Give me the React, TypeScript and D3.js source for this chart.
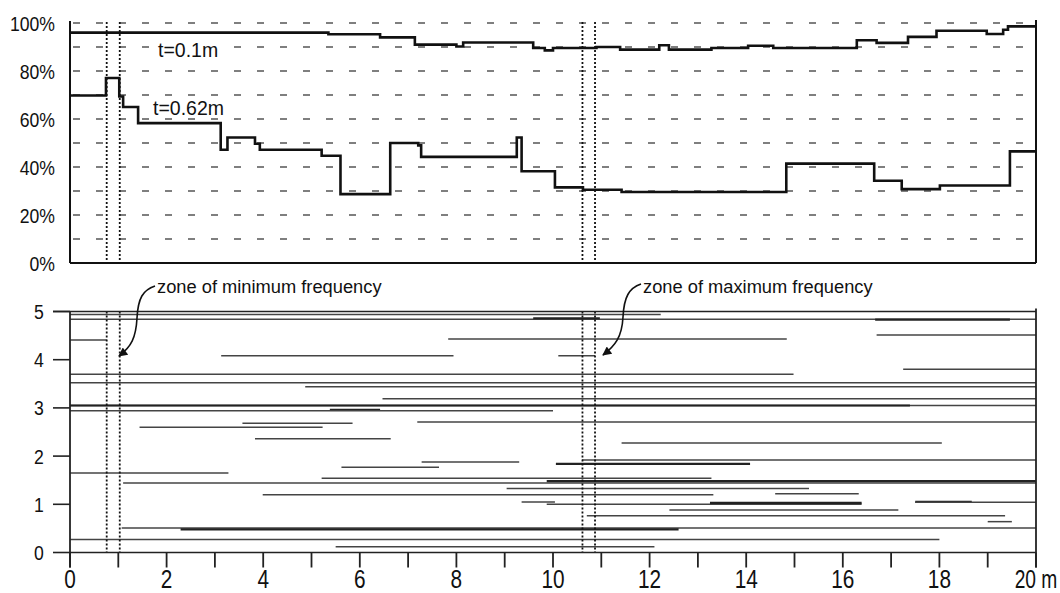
import React from "react";
import * as d3 from "d3";

// ---- data ----
const T01_X = [0, 5.35, 6.42, 7.14, 8.0, 8.14, 9.59, 9.83, 10.0, 10.9, 11.39, 12.2, 12.4, 13.28, 14.04, 14.56, 16.29, 16.7, 17.35, 17.94, 18.98, 19.32, 19.42];
const T01_V = [96.0, 95.3, 94.0, 91.0, 90.2, 91.9, 89.6, 88.6, 89.6, 90.0, 88.9, 90.7, 88.9, 89.6, 90.5, 89.6, 92.8, 91.7, 94.2, 96.8, 95.4, 97.2, 98.6];
const T062_X = [0, 0.745, 1.02, 1.1, 1.41, 3.12, 3.26, 3.83, 3.93, 5.21, 5.6, 6.63, 7.21, 7.27, 9.25, 9.35, 10.04, 10.62, 11.42, 14.83, 16.65, 17.22, 18.01, 19.46];
const T062_V = [69.8, 77.1, 69.4, 65.0, 58.3, 47.2, 52.3, 49.7, 47.2, 44.7, 28.7, 50.0, 49.0, 44.2, 52.3, 38.2, 31.5, 30.5, 29.6, 41.4, 34.3, 30.8, 32.3, 46.5];
const X_END = 20;

const PCT_TICKS = [0, 20, 40, 60, 80, 100];
const PCT_GRID = [10, 20, 30, 40, 50, 60, 70, 80, 90, 100];
const DEPTH_TICKS = [0, 1, 2, 3, 4, 5];
const X_TICKS = [0, 1, 2, 3, 4, 5, 6, 7, 8, 9, 10, 11, 12, 13, 14, 15, 16, 17, 18, 19, 20];
const X_LABELS = [0, 2, 4, 6, 8, 10, 12, 14, 16, 18, 20];

const MIN_ZONE = [0.76, 1.03];
const MAX_ZONE = [10.61, 10.87];

const FRAC_START = [0, 0, 9.59, 16.67, 16.7, 0, 7.83, 3.13, 10.11, 17.25, 0, 0, 4.87, 6.47, 0, 0, 5.38, 0, 3.57, 1.44, 7.19, 3.83, 11.42, 7.28, 5.62, 10.06, 10.6, 0, 1.1, 9.87, 5.21, 9.04, 3.99, 14.6, 9.35, 9.87, 13.25, 17.5, 17.5, 12.41, 10.7, 19.0, 1.07, 2.29, 0, 5.5];
const FRAC_END = [12.23, 20, 10.97, 19.46, 20, 0.76, 14.84, 7.94, 10.87, 20, 14.98, 20, 20, 20, 20, 17.39, 6.42, 10.0, 5.85, 5.23, 20, 6.64, 18.05, 9.3, 7.64, 14.08, 20, 3.28, 20, 20, 13.28, 15.3, 13.32, 16.33, 10.04, 16.39, 16.39, 18.67, 20, 17.15, 19.36, 19.5, 20, 12.6, 18.0, 12.1];
const FRAC_DEPTH = [4.94, 4.84, 4.86, 4.83, 4.51, 4.41, 4.43, 4.08, 4.08, 3.8, 3.7, 3.52, 3.44, 3.19, 3.05, 3.05, 2.96, 2.94, 2.68, 2.6, 2.71, 2.36, 2.27, 1.88, 1.77, 1.84, 1.92, 1.65, 1.44, 1.48, 1.54, 1.33, 1.2, 1.22, 1.05, 1.0, 1.03, 1.05, 1.04, 0.88, 0.76, 0.64, 0.51, 0.48, 0.27, 0.12];
const FRAC_HEAVY = [0, 0, 1, 1, 0, 0, 0, 0, 0, 0, 0, 0, 0, 0, 0, 1, 1, 0, 0, 0, 0, 0, 0, 0, 0, 1, 0, 0, 0, 1, 0, 0, 0, 0, 0, 0, 1, 1, 0, 0, 0, 0, 0, 1, 0, 0];

const LABEL_T01 = "t=0.1m";
const LABEL_T062 = "t=0.62m";
const NOTE_MIN = "zone of minimum frequency";
const NOTE_MAX = "zone of maximum frequency";

const FONT = "'Liberation Sans', Arial, sans-serif";

export default function App() {
  const x = d3.scaleLinear().domain([0, 20]).range([70, 1036]);
  const yT = d3.scaleLinear().domain([0, 100]).range([263, 23]);
  const yB = d3.scaleLinear().domain([0, 5]).range([552.5, 311.5]);

  const step = d3
    .line<[number, number]>()
    .x((d) => x(d[0]))
    .y((d) => yT(d[1]))
    .curve(d3.curveStepAfter);

  const mk = (xs: number[], vs: number[]) => {
    const pts: [number, number][] = xs.map((v, i) => [v, vs[i]]);
    pts.push([X_END, vs[vs.length - 1]]);
    return step(pts) || "";
  };

  const zones = [...MIN_ZONE, ...MAX_ZONE];

  return (
    <svg
      width={1060}
      height={593}
      style={{ position: "absolute", left: 0, top: 0, background: "#fff" }}
      fontFamily={FONT}
    >
      <defs>
        <marker id="ah" viewBox="0 0 10 10" refX="9" refY="5" markerWidth="11" markerHeight="9" markerUnits="userSpaceOnUse" orient="auto">
          <path d="M0,0 L10,5 L0,10 z" fill="#111" />
        </marker>
      </defs>

      {/* ---------- TOP PANEL ---------- */}
      {PCT_GRID.map((g) => (
        <line key={"g" + g} x1={x(0) + 3} x2={x(20)} y1={yT(g)} y2={yT(g)} stroke="#555" strokeWidth={1.5} strokeDasharray="7 16" />
      ))}
      <line x1={x(0)} x2={x(0)} y1={21} y2={yT(0)} stroke="#111" strokeWidth={2} />
      <line x1={x(0)} x2={x(20)} y1={yT(0)} y2={yT(0)} stroke="#111" strokeWidth={2} />
      <line x1={x(20)} x2={x(20)} y1={20} y2={yT(0)} stroke="#111" strokeWidth={2} />
      {PCT_TICKS.map((t) => (
        <text key={"p" + t} transform={`translate(55,${yT(t) + 7.5}) scale(0.84,1)`} textAnchor="end" fontSize={21} fill="#111">
          {t}%
        </text>
      ))}
      {zones.map((z, i) => (
        <line key={"zt" + i} x1={x(z)} x2={x(z)} y1={22} y2={yT(0)} stroke="#111" strokeWidth={1.8} strokeDasharray="2 2" />
      ))}
      <path d={mk(T01_X, T01_V)} fill="none" stroke="#111" strokeWidth={2.6} />
      <path d={mk(T062_X, T062_V)} fill="none" stroke="#111" strokeWidth={2.6} />
      <rect x={155} y={40} width={66} height={18} fill="#fff" />
      <text x={158} y={56.5} fontSize={19.5} fill="#111">{LABEL_T01}</text>
      <rect x={150} y={99} width={76} height={18} fill="#fff" />
      <text x={153} y={115} fontSize={19.5} fill="#111">{LABEL_T062}</text>

      {/* ---------- BOTTOM PANEL ---------- */}
      {FRAC_START.map((s, i) => (
        <line
          key={"f" + i}
          x1={x(s)}
          x2={x(FRAC_END[i])}
          y1={yB(FRAC_DEPTH[i])}
          y2={yB(FRAC_DEPTH[i])}
          stroke={FRAC_HEAVY[i] ? "#222" : "#444"}
          strokeWidth={FRAC_HEAVY[i] ? 2.2 : 1.5}
        />
      ))}
      {zones.map((z, i) => (
        <line key={"zb" + i} x1={x(z)} x2={x(z)} y1={yB(5)} y2={yB(0)} stroke="#111" strokeWidth={1.8} strokeDasharray="2 2" />
      ))}
      <line x1={53} x2={x(20)} y1={yB(5)} y2={yB(5)} stroke="#222" strokeWidth={1.6} />
      <line x1={x(0)} x2={x(20)} y1={yB(0)} y2={yB(0)} stroke="#222" strokeWidth={1.6} />
      <line x1={x(0)} x2={x(0)} y1={yB(5)} y2={yB(0) + 15} stroke="#222" strokeWidth={1.8} />
      <line x1={x(20)} x2={x(20)} y1={yB(5) - 3} y2={yB(0) + 15} stroke="#222" strokeWidth={1.8} />
      {DEPTH_TICKS.map((t) => (
        <g key={"d" + t}>
          <line x1={53} x2={x(0)} y1={yB(t)} y2={yB(t)} stroke="#222" strokeWidth={1.6} />
          <text transform={`translate(39,${yB(t) + 7.5}) scale(0.84,1)`} textAnchor="middle" fontSize={21} fill="#111">
            {t}
          </text>
        </g>
      ))}
      {X_TICKS.map((t) => (
        <line key={"xt" + t} x1={x(t)} x2={x(t)} y1={yB(0)} y2={yB(0) + 15} stroke="#222" strokeWidth={1.8} />
      ))}
      {X_LABELS.map((t) => (
        <text key={"xl" + t} transform={`translate(${x(t)},587.5) scale(${t === 20 ? 0.74 : 0.8},1)`} textAnchor="middle" fontSize={26} fill="#111">
          {t === 20 ? "20 m" : t}
        </text>
      ))}

      {/* annotations */}
      <text x={157} y={293} fontSize={18.3} fill="#111">{NOTE_MIN}</text>
      <text x={643} y={293} fontSize={18.3} fill="#111">{NOTE_MAX}</text>
      <path d="M155,286 C143,290 138,298 137,318 C136,338 131,347 119,356" fill="none" stroke="#111" strokeWidth={1.6} markerEnd="url(#ah)" />
      <path d="M641,284 C629,288 624,297 623,317 C622,337 615,346 603,355" fill="none" stroke="#111" strokeWidth={1.6} markerEnd="url(#ah)" />
    </svg>
  );
}
